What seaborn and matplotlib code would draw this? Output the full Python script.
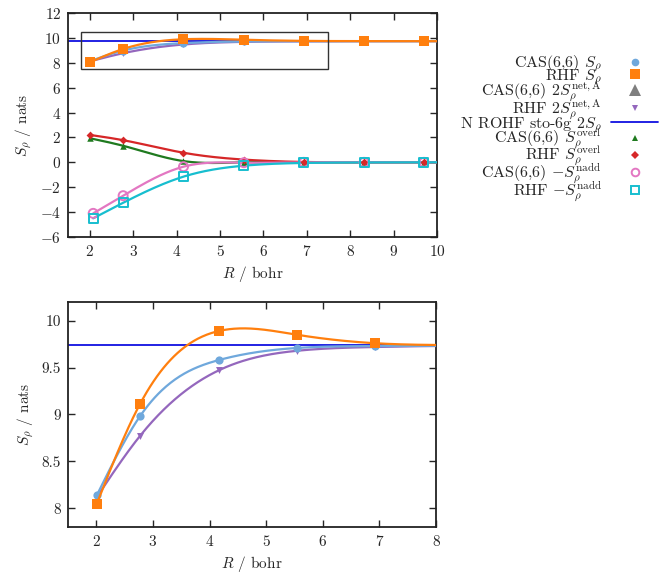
import numpy as np
import matplotlib
matplotlib.use("Agg")
import matplotlib.pyplot as plt
import seaborn as sns
from matplotlib.lines import Line2D
from matplotlib.patches import Rectangle

# ---------------- data ----------------
R = [2.01, 2.77, 4.16, 5.55, 6.93, 8.32, 9.70]
R_nadd = [2.08, 2.77, 4.16, 5.55, 6.93, 8.32, 9.70]

cas_S = [8.14, 8.98, 9.58, 9.71, 9.73, 9.735, 9.736]
rhf_S = [8.05, 9.11, 9.89, 9.85, 9.76, 9.74, 9.736]
rhf_2Snet = [8.12, 8.77, 9.47, 9.68, 9.72, 9.733, 9.736]
n_rohf_2S = 9.736
cas_overl = [1.93, 1.33, 0.10, 0.00, 0.00, 0.00, 0.00]
rhf_overl = [2.20, 1.78, 0.77, 0.22, 0.03, 0.00, 0.00]
cas_nadd = [-4.10, -2.68, -0.35, -0.03, 0.00, 0.00, 0.00]
rhf_nadd = [-4.50, -3.25, -1.15, -0.27, -0.05, -0.01, 0.00]

labels = [r"CAS(6,6) $S_\rho$", r"RHF $S_\rho$",
          r"CAS(6,6) $2S_\rho^{\rm net,A}$", r"RHF $2S_\rho^{\rm net,A}$",
          r"N ROHF sto-6g $2S_\rho$", r"CAS(6,6) $S_\rho^{\rm overl}$",
          r"RHF $S_\rho^{\rm overl}$", r"CAS(6,6) $-S_\rho^{\rm nadd}$",
          r"RHF $-S_\rho^{\rm nadd}$"]

C_CAS = "#6fa8dc"
C_RHF = "#ff7f0e"
C_GRAY = "#7f7f7f"
C_PURP = "#9467bd"
C_BLUE = "#1010e0"
C_GREEN = "#1f7a1f"
C_RED = "#d62728"
C_PINK = "#e377c2"
C_CYAN = "#17becf"

sns.set_style("ticks")
plt.rcParams["font.family"] = ["serif"]
plt.rcParams["font.serif"] = ["cmr10", "DejaVu Serif"]
plt.rcParams["mathtext.fontset"] = "cm"
plt.rcParams["axes.formatter.use_mathtext"] = True
plt.rcParams["font.size"] = 11


def spline(x, y, xs):
    x = np.asarray(x, float); y = np.asarray(y, float)
    n = len(x); h = np.diff(x)
    A = np.zeros((n, n)); b = np.zeros(n)
    A[0, 0] = 1; A[-1, -1] = 1
    for i in range(1, n - 1):
        A[i, i - 1] = h[i - 1]; A[i, i] = 2 * (h[i - 1] + h[i]); A[i, i + 1] = h[i]
        b[i] = 6 * ((y[i + 1] - y[i]) / h[i] - (y[i] - y[i - 1]) / h[i - 1])
    M = np.linalg.solve(A, b)
    idx = np.clip(np.searchsorted(x, xs) - 1, 0, n - 2)
    x0 = x[idx]; x1 = x[idx + 1]; hh = x1 - x0
    t0 = x1 - xs; t1 = xs - x0
    return (M[idx] * t0 ** 3 / (6 * hh) + M[idx + 1] * t1 ** 3 / (6 * hh)
            + (y[idx] / hh - M[idx] * hh / 6) * t0
            + (y[idx + 1] / hh - M[idx + 1] * hh / 6) * t1)


fig = plt.figure(figsize=(6.61, 5.81), dpi=100)
ax1 = fig.add_axes([68 / 661, 1 - 237 / 581, 369 / 661, 224 / 581])
ax2 = fig.add_axes([68 / 661, 1 - 527 / 581, 368 / 661, 225 / 581])


def curve(ax, x, y, color, marker, ms, filled=True, z=2, xend=10.0, lw=1.6):
    xs = np.linspace(x[0], xend, 400)
    sns.lineplot(x=xs, y=spline(x, y, xs), ax=ax, color=color, lw=lw, zorder=z)
    if filled:
        sns.scatterplot(x=x, y=y, ax=ax, color=color, marker=marker, s=ms,
                        edgecolor=color, linewidth=0, zorder=z + 0.5)
    else:
        sns.scatterplot(x=x, y=y, ax=ax, marker=marker, s=ms, facecolor="none",
                        edgecolor=color, linewidth=1.4, zorder=z + 0.5)


for ax in (ax1, ax2):
    ax.axhline(n_rohf_2S, color=C_BLUE, lw=1.3, zorder=1.5)
    curve(ax, R, rhf_2Snet, C_PURP, "v", 25, z=3)
    curve(ax, R, cas_S, C_CAS, "o", 35, z=4)
    curve(ax, R, rhf_S, C_RHF, "s", 50, z=5)

curve(ax1, R, cas_overl, C_GREEN, "^", 22, z=3)
curve(ax1, R, rhf_overl, C_RED, "D", 16, z=3)
curve(ax1, R_nadd, cas_nadd, C_PINK, "o", 42, filled=False, z=3)
curve(ax1, R_nadd, rhf_nadd, C_CYAN, "s", 42, filled=False, z=3)

ax1.add_patch(Rectangle((1.8, 7.5), 5.7, 3.0, fill=False, edgecolor="#333333",
                        lw=1.0, zorder=6))

ax1.set_xlim(1.5, 10); ax1.set_ylim(-6, 12)
ax1.set_xticks(range(2, 11)); ax1.set_yticks(range(-6, 13, 2))
ax2.set_xlim(1.5, 8); ax2.set_ylim(7.8, 10.2)
ax2.set_xticks(range(2, 9)); ax2.set_yticks([8, 8.5, 9, 9.5, 10])
ax2.set_yticklabels(["8", "8.5", "9", "9.5", "10"])

for ax in (ax1, ax2):
    ax.set_xlabel(r"$R$ / bohr", labelpad=4)
    ax.set_ylabel(r"$S_\rho$ / nats", labelpad=4)
    ax.tick_params(direction="in", top=True, right=True, length=5, width=1,
                   labelsize=11, pad=5)
    for s in ax.spines.values():
        s.set_visible(True); s.set_linewidth(1.3); s.set_color("#222222")
    if ax.get_legend():
        ax.get_legend().remove()

handles = [
    Line2D([], [], ls="none", marker="o", color=C_CAS, ms=5.5, mew=0),
    Line2D([], [], ls="none", marker="s", color=C_RHF, ms=6.5, mew=0),
    Line2D([], [], ls="none", marker="^", color=C_GRAY, ms=9, mew=0),
    Line2D([], [], ls="none", marker="v", color=C_PURP, ms=5, mew=0),
    Line2D([], [], color=C_BLUE, lw=1.3),
    Line2D([], [], ls="none", marker="^", color=C_GREEN, ms=5, mew=0),
    Line2D([], [], ls="none", marker="D", color=C_RED, ms=4, mew=0),
    Line2D([], [], ls="none", marker="o", mfc="none", mec=C_PINK, ms=5.5, mew=1.4),
    Line2D([], [], ls="none", marker="s", mfc="none", mec=C_CYAN, ms=5.5, mew=1.4),
]
leg = fig.legend(handles, labels, loc="upper right", bbox_to_anchor=(661 / 661, 1 - 50 / 581),
                 markerfirst=False, frameon=False, fontsize=11.5, labelspacing=-0.45,
                 handlelength=2.9, handletextpad=0.6, borderaxespad=0, borderpad=0.2)
for t in leg.get_texts():
    t.set_ha("right")

fig.savefig("out.png", dpi=100)
